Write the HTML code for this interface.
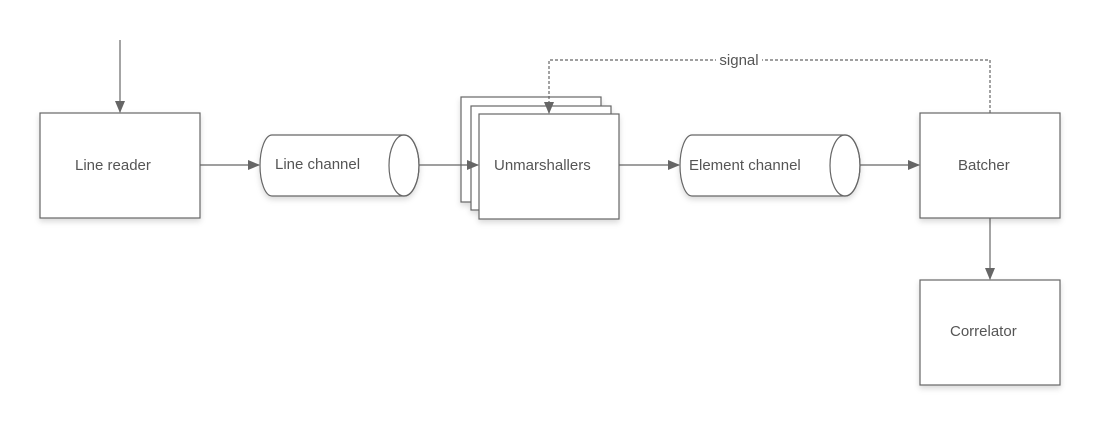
<!DOCTYPE html>
<html><head><meta charset="utf-8"><style>html,body{margin:0;padding:0;background:#fff}svg{display:block}</style></head>
<body>
<svg width="1101" height="425" viewBox="0 0 1101 425" xmlns="http://www.w3.org/2000/svg" font-family="Liberation Sans, sans-serif" font-size="15" fill="#333">
<defs>
<marker id="a" markerWidth="12" markerHeight="10" refX="11" refY="5" orient="auto" markerUnits="userSpaceOnUse"><path d="M0,0 L12,5 L0,10 Z" fill="#666"/></marker>
<filter id="s" x="-10%" y="-10%" width="130%" height="130%"><feDropShadow dx="0" dy="3" stdDeviation="3" flood-color="#000" flood-opacity="0.15"/></filter>
</defs>
<g stroke="#666" stroke-width="1.2" fill="none">
<line x1="120" y1="40" x2="120" y2="112" marker-end="url(#a)"/>
<line x1="200" y1="165" x2="259" y2="165" marker-end="url(#a)"/>
<line x1="619" y1="165" x2="679" y2="165" marker-end="url(#a)"/>
<line x1="860" y1="165" x2="919" y2="165" marker-end="url(#a)"/>
<line x1="990" y1="218" x2="990" y2="279" marker-end="url(#a)"/>
</g>
<g fill="#fff" stroke="#666" stroke-width="1.2" filter="url(#s)">
<rect x="40" y="113" width="160" height="105"/>
<rect x="920" y="113" width="140" height="105"/>
<rect x="920" y="280" width="140" height="105"/>
<rect x="461" y="97" width="140" height="105"/>
<rect x="471" y="106" width="140" height="104"/>
<rect x="479" y="114" width="140" height="105"/>
<path d="M272,135 L404,135 A15,30.5 0 0 1 404,196 L272,196 A12,30.5 0 0 1 272,135 Z"/>
<path d="M692,135 L845,135 A15,30.5 0 0 1 845,196 L692,196 A12,30.5 0 0 1 692,135 Z"/>
</g>
<g fill="none" stroke="#666" stroke-width="1.2">
<ellipse cx="404" cy="165.5" rx="15" ry="30.5"/>
<ellipse cx="845" cy="165.5" rx="15" ry="30.5"/>
<line x1="419" y1="165" x2="478" y2="165" marker-end="url(#a)"/>
<polyline points="990,113 990,60 549,60 549,113" stroke-dasharray="3,2" marker-end="url(#a)"/>
</g>
<rect x="716" y="52" width="46" height="16" fill="#fff"/>
<text x="739" y="65" text-anchor="middle" font-size="15" fill="#555">signal</text>
<g fill="#555">
<text x="75" y="170">Line reader</text>
<text x="275" y="169">Line channel</text>
<text x="494" y="170">Unmarshallers</text>
<text x="689" y="170">Element channel</text>
<text x="958" y="170">Batcher</text>
<text x="950" y="336">Correlator</text>
</g>
</svg>
</body></html>
